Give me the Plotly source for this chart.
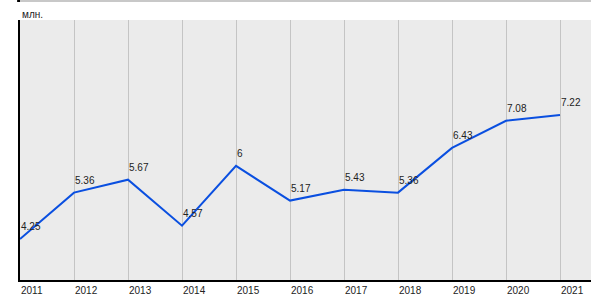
import plotly.graph_objects as go

years = [2011, 2012, 2013, 2014, 2015, 2016, 2017, 2018, 2019, 2020, 2021]
values = [4.25, 5.36, 5.67, 4.57, 6, 5.17, 5.43, 5.36, 6.43, 7.08, 7.22]
labels = ["4.25", "5.36", "5.67", "4.57", "6", "5.17", "5.43", "5.36", "6.43", "7.08", "7.22"]
tick_labels = [str(y) for y in years]

fig = go.Figure()
fig.add_trace(go.Scatter(
    x=years, y=values, mode="lines",
    line=dict(color="#0a4fe0", width=2),
    hoverinfo="skip",
))

value_annotations = [
    dict(text=t, x=xv, y=yv, xref="x", yref="y", xanchor="left", yanchor="bottom",
         xshift=-1, yshift=5, showarrow=False,
         font=dict(family="Arial, Liberation Sans", size=10, color="#222"))
    for xv, yv, t in zip(years, values, labels)
]

fig.update_layout(
    width=600, height=300,
    margin=dict(l=20, r=9, t=20, b=20, autoexpand=False),
    paper_bgcolor="white", plot_bgcolor="#ebebeb",
    showlegend=False,
    font=dict(family="Arial, Liberation Sans", size=10, color="#222"),
    xaxis=dict(
        range=[2011, 2021.574], tickmode="array", tickvals=years, ticktext=tick_labels,
        showgrid=True, gridcolor="#c4c4c4", gridwidth=1,
        showline=True, linecolor="black", linewidth=2,
        ticks="", ticklabelposition="outside right", zeroline=False,
        tickfont=dict(size=10, color="#222"), automargin=False,
    ),
    yaxis=dict(
        range=[3.27, 9.49], showgrid=False, showticklabels=False,
        showline=True, linecolor="black", linewidth=2, ticks="", zeroline=False,
        automargin=False,
    ),
    shapes=[
        dict(type="line", xref="paper", yref="paper", x0=-0.005, x1=1.0, y0=1.073, y1=1.073,
             line=dict(color="#c8c8c8", width=2)),
        dict(type="line", xref="paper", yref="paper", x0=-0.005, x1=0.0, y0=1.073, y1=1.073,
             line=dict(color="black", width=2)),
    ],
    annotations=[
        dict(text="млн.", xref="paper", yref="paper", x=0, y=1.0, yshift=-2,
             xanchor="left", yanchor="bottom", showarrow=False,
             font=dict(size=10, color="#222")),
    ] + value_annotations,
)

fig.write_html("out.html")
